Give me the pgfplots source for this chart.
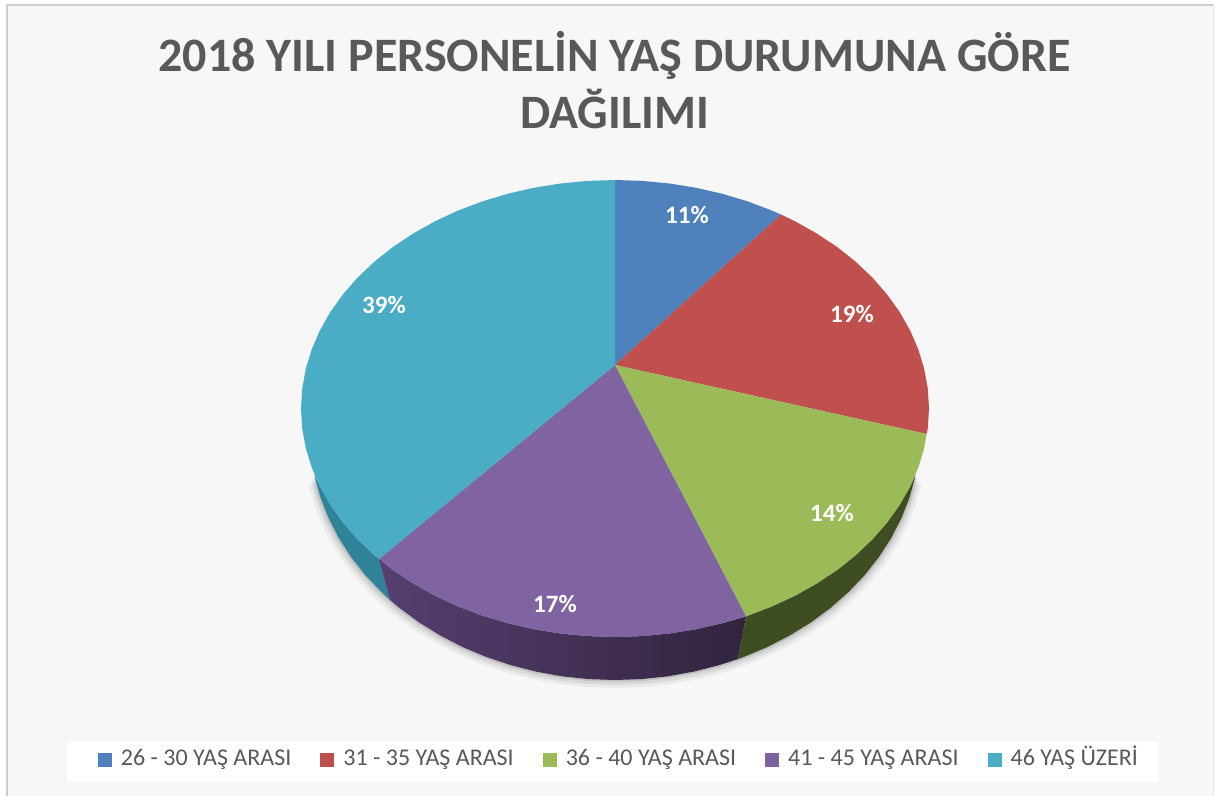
\documentclass[border=0pt]{standalone}
\usepackage{fontspec}
\setmainfont{Carlito}
\usepackage{pgfplots}
\usepackage{pgfplotstable}
\pgfplotsset{compat=1.18}

\definecolor{c1}{HTML}{4F81BD}
\definecolor{c2}{HTML}{C0504D}
\definecolor{c3}{HTML}{9BBB59}
\definecolor{c4}{HTML}{8064A2}
\definecolor{c5}{HTML}{4BACC6}
\definecolor{txt}{HTML}{595959}

% lower rim of the disc, in picture pixels
\pgfplotstableread{
x y
314.6 476.3
320.4 497.3
328.4 517.8
338.6 537.7
350.9 556.8
365.1 574.9
381.4 592
399.3 607.8
418.9 622.3
440.1 635.4
462.5 647
486.1 656.9
510.7 665.1
536.1 671.6
562 676.3
588.4 679.1
615 680
641.6 679.1
668 676.3
693.9 671.6
719.3 665.1
743.9 656.9
767.5 647
789.9 635.4
811.1 622.3
830.7 607.8
848.6 592
864.9 574.9
879.1 556.8
891.4 537.7
901.6 517.8
909.6 497.3
915.4 476.3
}\rim

\begin{document}
\begin{tikzpicture}
\begin{axis}[
    scale only axis,
    width=1221pt, height=796pt,
    xmin=0, xmax=1221, ymin=0, ymax=796,
    y dir=reverse,
    hide axis,
    clip=false,
    title={2018 YILI PERSONELİN YAŞ DURUMUNA GÖRE\\DAĞILIMI},
    title style={at={(axis cs:614.5,86)}, anchor=center, align=center,
                 font=\fontsize{48}{57}\selectfont\bfseries, text=txt},
    legend columns=5,
    legend cell align=left,
    legend style={at={(axis cs:619,760)}, anchor=center, draw=none, fill=none,
                  font=\fontsize{24}{26}\selectfont, text=txt,
                  inner xsep=0pt, inner ysep=0pt,
                  nodes={text height=16pt, text depth=5pt},
                  /tikz/every odd column/.style={column sep=7pt},
                  /tikz/every even column/.style={column sep=27pt}},
    legend image code/.code={\fill[#1] (0pt,-7pt) rectangle (14pt,7pt);},
]
% background
\fill[white] (axis cs:0,0) rectangle (axis cs:1221,796);
\fill[black!3] (axis cs:7,5) rectangle (axis cs:1213,796);
\draw[black!20, line width=2pt] (axis cs:7,796) -- (axis cs:7,5) -- (axis cs:1213,5);
\draw[black!10, line width=1pt] (axis cs:1213,5) -- (axis cs:1213,796);
\fill[white] (axis cs:67,742) rectangle (axis cs:1158,782);

% soft shadow under the disc
\addplot[forget plot, draw=none, fill=black, opacity=0.05] table[x expr={615+(\thisrow{x}-615)*1.02}, y expr={\thisrow{y}+8}] {\rim} -- cycle;
\addplot[forget plot, draw=none, fill=black, opacity=0.07] table[x expr={615+(\thisrow{x}-615)*1.012}, y expr={\thisrow{y}+5}] {\rim} -- cycle;
\addplot[forget plot, draw=none, fill=black, opacity=0.10] table[x expr={615+(\thisrow{x}-615)*1.006}, y expr={\thisrow{y}+2}] {\rim} -- cycle;

% side walls
\addplot[forget plot, draw=none, fill={rgb,255:red,47;green,130;blue,151}] coordinates {
  (314.5,475)(319.9,486.6)(330.4,505.1)(343.1,522.8)(357.8,539.6)(374.5,555.4)(379,559)
  (390,600)(381.4,592)(365.1,574.9)(350.9,556.8)(338.6,537.7)(328.4,517.8)(320.4,497.3)(314.6,476.3)
} -- cycle;
\addplot[forget plot, draw=none, left color={rgb,255:red,86;green,63;blue,112}, middle color={rgb,255:red,58;green,42;blue,74}, right color={rgb,255:red,50;green,36;blue,63}] coordinates {
  (379,559)(393,570.1)(413.2,583.5)(434.9,595.7)(458,606.4)(482.3,615.6)(507.6,623.2)(533.7,629.2)
  (560.5,633.5)(587.6,636.1)(615,637)(642.4,636.1)(669.5,633.5)(696.3,629.2)(722.4,623.2)(746,616.5)
  (738,659)(719.3,665.1)(693.9,671.6)(668,676.3)(641.6,679.1)(615,680)(588.4,679.1)(562,676.3)
  (536.1,671.6)(510.7,665.1)(486.1,656.9)(462.5,647)(440.1,635.4)(418.9,622.3)(399.3,607.8)(390,600)
} -- cycle;
\addplot[forget plot, draw=none, fill={rgb,255:red,63;green,77;blue,35}] coordinates {
  (746,616.5)(772,606.4)(795.1,595.7)(816.8,583.5)(837,570.1)(855.5,555.4)(872.2,539.6)(886.9,522.8)
  (899.6,505.1)(910.1,486.6)(915.5,475)
  (915.4,476.3)(909.6,497.3)(901.6,517.8)(891.4,537.7)(879.1,556.8)(864.9,574.9)(848.6,592)(830.7,607.8)
  (811.1,622.3)(789.9,635.4)(767.5,647)(743.9,656.9)(738,659)
} -- cycle;

% top of the disc
\addplot[draw=none, fill=c1] coordinates {
  (615,365)(615,180)(642.4,180.9)(669.5,183.5)(696.3,187.8)(722.4,193.8)(747.7,201.4)(772,210.6)(781,214.5)
} -- cycle;
\addlegendentry{26 - 30 YAŞ ARASI}
\addplot[draw=none, fill=c2] coordinates {
  (615,365)(781,214.5)(795.1,221.3)(816.8,233.5)(837,246.9)(855.5,261.6)(872.2,277.4)(886.9,294.2)
  (899.6,311.9)(910.1,330.4)(918.3,349.4)(924.2,368.8)(927.8,388.6)(929,408.5)(927.8,428.4)(926.5,434)
} -- cycle;
\addlegendentry{31 - 35 YAŞ ARASI}
\addplot[draw=none, fill=c3] coordinates {
  (615,365)(926.5,434)(924.2,448.2)(918.3,467.6)(910.1,486.6)(899.6,505.1)(886.9,522.8)(872.2,539.6)
  (855.5,555.4)(837,570.1)(816.8,583.5)(795.1,595.7)(772,606.4)(747.7,615.6)(746,616.5)
} -- cycle;
\addlegendentry{36 - 40 YAŞ ARASI}
\addplot[draw=none, fill=c4] coordinates {
  (615,365)(746,616.5)(722.4,623.2)(696.3,629.2)(669.5,633.5)(642.4,636.1)(615,637)(587.6,636.1)
  (560.5,633.5)(533.7,629.2)(507.6,623.2)(482.3,615.6)(458,606.4)(434.9,595.7)(413.2,583.5)(393,570.1)(379,559)
} -- cycle;
\addlegendentry{41 - 45 YAŞ ARASI}
\addplot[draw=none, fill=c5] coordinates {
  (615,365)(379,559)(374.5,555.4)(357.8,539.6)(343.1,522.8)(330.4,505.1)(319.9,486.6)(311.7,467.6)
  (305.8,448.2)(302.2,428.4)(301,408.5)(302.2,388.6)(305.8,368.8)(311.7,349.4)(319.9,330.4)(330.4,311.9)
  (343.1,294.2)(357.8,277.4)(374.5,261.6)(393,246.9)(413.2,233.5)(434.9,221.3)(458,210.6)(482.3,201.4)
  (507.6,193.8)(533.7,187.8)(560.5,183.5)(587.6,180.9)(615,180)
} -- cycle;
\addlegendentry{46 YAŞ ÜZERİ}

% percentages
\foreach \px/\py/\lab in {687/215/11\%, 852/314/19\%, 832/513/14\%, 555/604/17\%, 384/305/39\%}{
  \edef\tmp{\noexpand\node[text=white, font=\noexpand\fontsize{25}{27}\noexpand\selectfont\noexpand\bfseries] at (axis cs:\px,\py) {\lab};}
  \tmp
}
\end{axis}
\end{tikzpicture}
\end{document}
